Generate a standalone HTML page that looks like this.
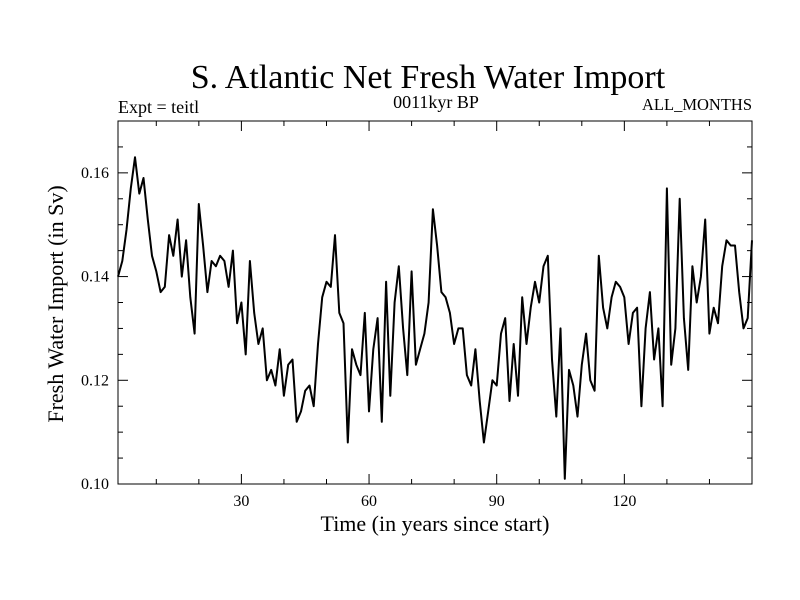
<!DOCTYPE html>
<html><head><meta charset="utf-8"><style>body{margin:0;background:#fff}svg{display:block}</style></head>
<body>
<svg id="c" width="800" height="600" xmlns="http://www.w3.org/2000/svg" font-family="Liberation Serif, serif">
<text x="428" y="88" font-size="34" text-anchor="middle">S. Atlantic Net Fresh Water Import</text>
<text x="118" y="113" font-size="18">Expt = teitl</text>
<text x="436" y="108" font-size="18" text-anchor="middle">0011kyr BP</text>
<text x="752" y="110" font-size="16.5" text-anchor="end">ALL_MONTHS</text>
<text x="435" y="531" font-size="22" text-anchor="middle">Time (in years since start)</text>
<text transform="translate(63,304) rotate(-90)" font-size="22" text-anchor="middle">Fresh Water Import (in Sv)</text>
<g id="axes"></g>
<path id="line" fill="none" stroke="#000" stroke-width="2" stroke-linejoin="round"/>
<rect x="118" y="121" width="634" height="363" fill="none" stroke="#000" stroke-width="1"/>
</svg>
<script>
const values=[0.140,0.143,0.149,0.157,0.163,0.156,0.159,0.151,0.144,0.141,0.137,0.138,0.148,0.144,0.151,0.140,0.147,0.136,0.129,0.154,
0.146,0.137,0.143,0.142,0.144,0.143,0.138,0.145,0.131,0.135,0.125,0.143,0.133,0.127,0.130,0.120,0.122,0.119,0.126,0.117,
0.123,0.124,0.112,0.114,0.118,0.119,0.115,0.127,0.136,0.139,0.138,0.148,0.133,0.131,0.108,0.126,0.123,0.121,0.133,0.114,
0.126,0.132,0.112,0.139,0.117,0.135,0.142,0.130,0.121,0.141,0.123,0.126,0.129,0.135,0.153,0.146,0.137,0.136,0.133,0.127,
0.130,0.130,0.121,0.119,0.126,0.116,0.108,0.114,0.120,0.119,0.129,0.132,0.116,0.127,0.117,0.136,0.127,0.134,0.139,0.135,
0.142,0.144,0.124,0.113,0.130,0.101,0.122,0.119,0.113,0.123,0.129,0.120,0.118,0.144,0.134,0.130,0.136,0.139,0.138,0.136,
0.127,0.133,0.134,0.115,0.130,0.137,0.124,0.130,0.115,0.157,0.123,0.130,0.155,0.132,0.122,0.142,0.135,0.140,0.151,0.129,
0.134,0.131,0.142,0.147,0.146,0.146,0.137,0.130,0.132,0.147];
const xTicks=[30,60,90,120];
const yTicks=[0.10,0.12,0.14,0.16];
const L=118,R=752,T=121,B=484,X0=1,X1=150,Y0=0.10,Y1=0.17;
const sx=v=>L+(v-X0)/(X1-X0)*(R-L);
const sy=v=>B-(v-Y0)/(Y1-Y0)*(B-T);
document.getElementById('line').setAttribute('d',values.map((v,i)=>(i?'L':'M')+sx(i+1).toFixed(1)+','+sy(v).toFixed(1)).join(''));
const ax=document.getElementById('axes');const NS='http://www.w3.org/2000/svg';
function ln(x1,y1,x2,y2){const l=document.createElementNS(NS,'line');l.setAttribute('x1',x1);l.setAttribute('y1',y1);l.setAttribute('x2',x2);l.setAttribute('y2',y2);l.setAttribute('stroke','#000');


ax.appendChild(l);}
function tx(x,y,s,a,n){const t=document.createElementNS(NS,'text');t.setAttribute('x',x);t.setAttribute('y',y);t.setAttribute('font-size','16');t.setAttribute('text-anchor',a);t.textContent=s;


ax.appendChild(t);}
for(let v=10;v<=150;v+=10){const x=sx(v);const m=v%30===0;ln(x,B,x,B-(m?10:5));ln(x,T,x,T+(m?10:5));}
xTicks.forEach(v=>tx(sx(v),506,String(v),'middle','x-tick-label'));
for(let k=0;k<=14;k++){const v=Y0+k*0.005;const y=sy(v);const m=k%4===0;ln(L,y,L+(m?10:5),y);ln(R,y,R-(m?10:5),y);}
yTicks.forEach(v=>tx(L-9,sy(v)+5,v.toFixed(2),'end','y-tick-label'));
</script>
</body></html>
